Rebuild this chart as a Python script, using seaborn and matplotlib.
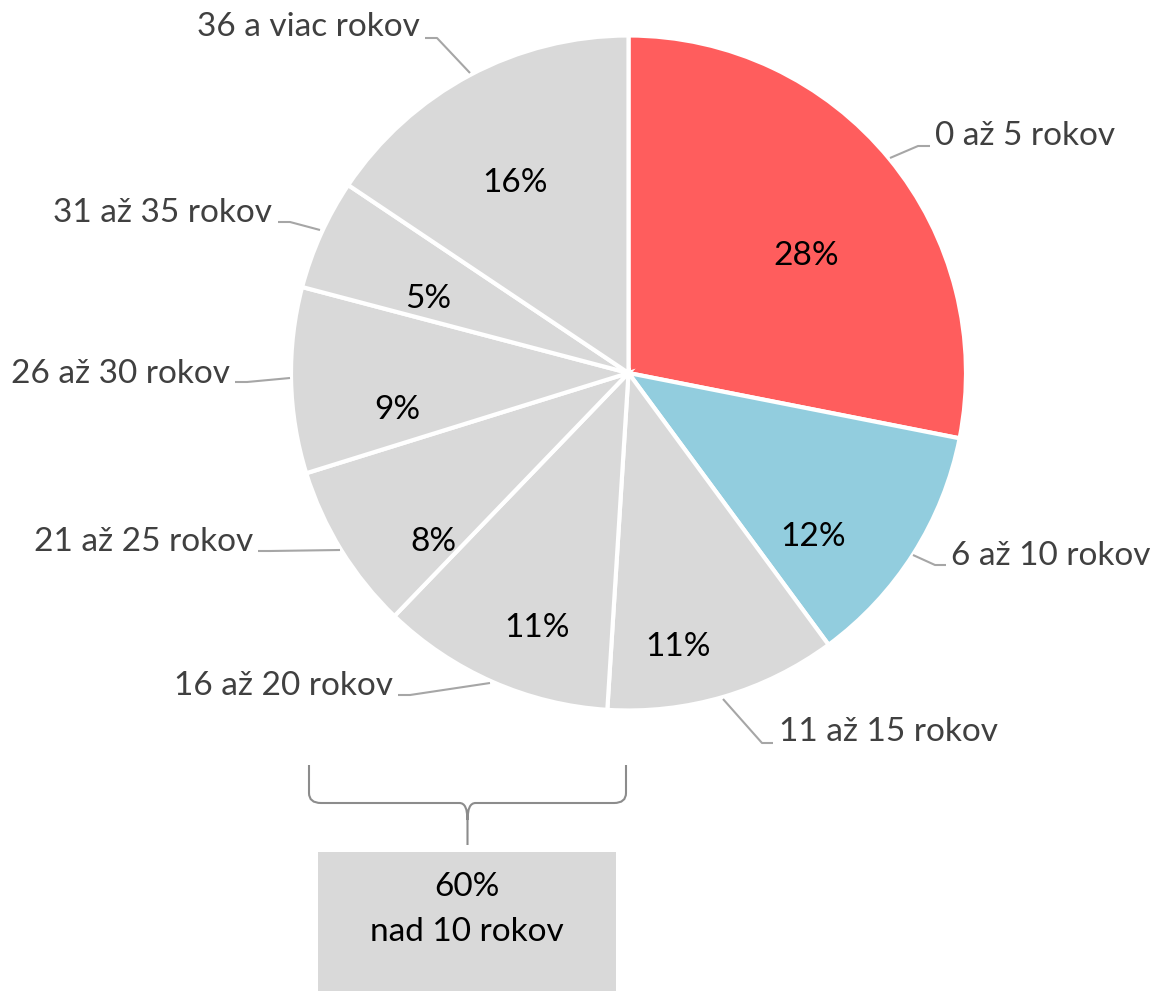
"""
Pie chart - age of buildings (rokov), with brace highlighting share over 10 years.
"""

import matplotlib
matplotlib.use("Agg")
import matplotlib.pyplot as plt
from matplotlib.path import Path
from matplotlib.patches import PathPatch, Rectangle
import seaborn as sns

# data (shares, labels show rounded values)
categories = ["0 až 5 rokov", "6 až 10 rokov", "11 až 15 rokov", "16 až 20 rokov",
              "21 až 25 rokov", "26 až 30 rokov", "31 až 35 rokov", "36 a viac rokov"]
shares = [28.1, 11.8, 11.1, 11.2, 8.0, 8.9, 5.3, 15.6]
summary_value = "60%"
summary_label = "nad 10 rokov"

# colours
RED = "#FF5D5D"
BLUE = "#92CDDE"
GRAY = "#D9D9D9"
slice_colors = [RED, BLUE] + [GRAY] * 6

sns.set_theme(style="white")
plt.rcParams["font.family"] = ["Lato", "DejaVu Sans"]

W, H = 1153, 991
CX, CY, R = 628.5, 373, 337.5
FS = 24


def py(y):
    # pixel row (from top) -> data y
    return H - y


# layout (pixel coords from top-left): percent labels, outer labels, leader lines
pct_pos = [(806, 256), (813, 537), (678, 647), (537, 628),
           (433, 542), (397, 410), (428, 299), (515, 183)]
label_pos = [(935, 136, "left"), (951, 556, "left"), (779, 732, "left"), (393, 686, "right"),
             (253, 542, "right"), (230, 374, "right"), (272, 213, "right"), (420, 27, "right")]
leaders = [
    [(890, 158), (918, 146), (930, 146)],
    [(913, 555), (935, 565), (946, 565)],
    [(723, 699), (762, 743), (773, 743)],
    [(490, 683), (410, 695), (398, 695)],
    [(340, 550), (270, 551), (258, 551)],
    [(290, 378), (247, 382), (235, 382)],
    [(320, 230), (290, 222), (278, 222)],
    [(470, 73), (437, 38), (425, 38)],
]

fig = plt.figure(figsize=(W / 100, H / 100), dpi=100)
ax = fig.add_axes([0, 0, 1, 1])

wedges, _ = ax.pie(
    shares,
    colors=slice_colors,
    startangle=90,
    counterclock=False,
    center=(CX, py(CY)),
    radius=R,
    wedgeprops=dict(edgecolor="white", linewidth=3),
)

for val, (x, y) in zip(shares, pct_pos):
    ax.text(x, py(y), f"{round(val):d}%", ha="center", va="center", fontsize=FS, color="black")

for name, (x, y, ha) in zip(categories, label_pos):
    ax.text(x, py(y), name, ha=ha, va="center", fontsize=FS, color="#404040")

for pts in leaders:
    ax.plot([p[0] for p in pts], [py(p[1]) for p in pts], color="#A6A6A6", lw=1.5,
            solid_capstyle="butt")

# brace under the pie
x0, x1, xm = 309, 626, 467.5
ytop, ymid, ybot = 765, 803, 845
verts = [
    (x0, ytop), (x0, 793), (x0, ymid), (x0 + 12, ymid),
    (xm - 8, ymid), (xm, ymid), (xm, 820), (xm, ybot),
]
codes = [Path.MOVETO, Path.LINETO, Path.CURVE3, Path.CURVE3,
         Path.LINETO, Path.CURVE3, Path.CURVE3, Path.LINETO]
right = [(x1, ytop), (x1, 793), (x1, ymid), (x1 - 12, ymid),
         (xm + 8, ymid), (xm, ymid), (xm, 820)]
verts += right
codes += [Path.MOVETO, Path.LINETO, Path.CURVE3, Path.CURVE3,
          Path.LINETO, Path.CURVE3, Path.CURVE3]
brace = Path([(x, py(y)) for x, y in verts], codes)
ax.add_patch(PathPatch(brace, facecolor="none", edgecolor="#8C8C8C", lw=1.5))

# summary box
ax.add_patch(Rectangle((318, py(991)), 298, 991 - 852, facecolor=GRAY, edgecolor="none"))
ax.text(467, py(887), summary_value, ha="center", va="center", fontsize=FS, color="black")
ax.text(467, py(932), summary_label, ha="center", va="center", fontsize=FS, color="black")

ax.set_xlim(0, W)
ax.set_ylim(0, H)
ax.set_aspect("equal")
ax.axis("off")

fig.savefig("out.png", dpi=100)
plt.close(fig)
